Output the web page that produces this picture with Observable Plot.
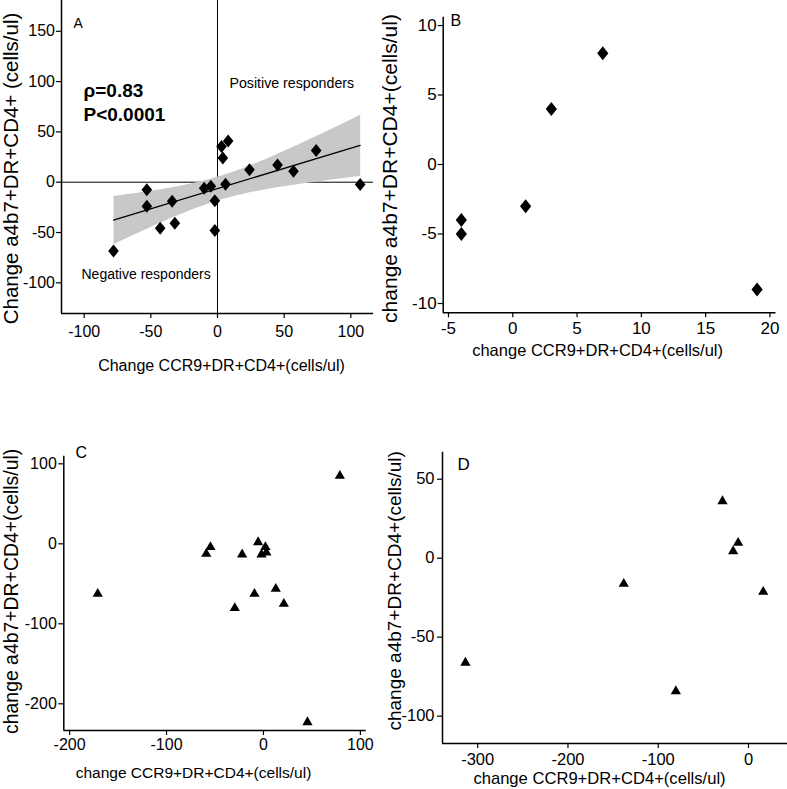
<!DOCTYPE html>
<html><head><meta charset="utf-8">
<script src="https://cdn.jsdelivr.net/npm/d3@7"></script>
<script src="https://cdn.jsdelivr.net/npm/@observablehq/plot@0.6"></script>
<style>
html,body{margin:0;padding:0;background:#fff;}
#wrap{position:relative;width:787px;height:789px;overflow:hidden;background:#fff;}
#wrap svg{position:absolute;overflow:visible;}
</style></head><body><div id="wrap"></div>
<script>
// ---------- data ----------
// Panel A
const aX = [-78,-53,-53,-43,-34,-32,-10,-5,-2,-2,3,4,8,6,24,45,57,74,107];
const aY = [-68.5,-7.6,-24,-45.7,-19,-40.7,-6,-4,-18.5,-48,35.4,24,41,-2,12.3,17,11,31.5,-2.3];
const aXTicks = [-100,-50,0,50,100];
const aYTicks = [-100,-50,0,50,100,150];
// Panel B
const bX = [-4,-4,1,3,7,19];
const bY = [-4,-5,-3,4,8,-9];
const bXTicks = [-5,0,5,10,15,20];
const bYTicks = [-10,-5,0,5,10];
// Panel C
const cX = [-171,-59,-54.7,-22,-5.5,-2,2,3,-9.3,-29.6,12.7,21,45.4,78.8];
const cY = [-62.5,-12.5,-4.2,-13.3,2,-13.3,-4.2,-10.8,-62.5,-80.4,-56.3,-75,-223,85];
const cXTicks = [-200,-100,0,100];
const cYTicks = [-200,-100,0,100];
// Panel D
const dX = [-313.6,-138.2,-80.5,-28.8,-11.5,-17,16.3];
const dY = [-66.2,-16.2,-84.2,36.1,9.7,4.4,-21.3];
const dXTicks = [-300,-200,-100,0];
const dYTicks = [-100,-50,0,50];
// labels
const labA_x = "Change CCR9+DR+CD4+(cells/ul)";
const labA_y = "Change a4b7+DR+CD4+ (cells/ul)";
const labX = "change CCR9+DR+CD4+(cells/ul)";
const labY = "change a4b7+DR+CD4+(cells/ul)";
const rhoText = "ρ=0.83";
const pText = "P<0.0001";
const posText = "Positive responders";
const negText = "Negative responders";

// ---------- helpers ----------
const FONT = '"Liberation Sans",Arial,Helvetica,sans-serif';
const zip = (xs, ys) => xs.map((x, i) => ({x, y: ys[i]}));
const diamond = (w, h) => ({draw(ctx){ ctx.moveTo(0,-h); ctx.lineTo(w,0); ctx.lineTo(0,h); ctx.lineTo(-w,0); ctx.closePath(); }});
const fmt = d => String(d);
const wrap = document.getElementById("wrap");

function place(svg, left, top){ svg.style.left = left + "px"; svg.style.top = top + "px"; wrap.appendChild(svg); }

function axes(xd, yd, xt, yt, fs, padX, padY){
  return [
    Plot.ruleX([xd[0]], {stroke:"black", strokeWidth:1.5}),
    Plot.ruleY([yd[0]], {stroke:"black", strokeWidth:1.5}),
    Plot.axisX({ticks: xt, tickFormat: fmt, tickSize: 5, tickPadding: padX, fontSize: fs, strokeWidth: 1.2, label: null}),
    Plot.axisY({ticks: yt, tickFormat: fmt, tickSize: 5, tickPadding: padY, fontSize: fs, strokeWidth: 1.2, label: null})
  ];
}
function xLabel(t, dx, dy, fs){ return Plot.text([t], {text: d => d, frameAnchor: "bottom", dx, dy, fontSize: fs, lineAnchor: "middle", textAnchor: "middle"}); }
function yLabel(t, dx, dy, fs){ return Plot.text([t], {text: d => d, frameAnchor: "left", dx, dy, rotate: -90, fontSize: fs, lineAnchor: "middle", textAnchor: "middle"}); }
const baseStyle = {fontFamily: FONT, color: "black", background: "transparent", overflow: "visible"};

// ---------- Panel A ----------
{
  const xd = [-117, 117], yd = [-130.5, 180.6];
  const data = zip(aX, aY);
  const svg = Plot.plot({
    width: 380, height: 385, marginLeft: 61, marginRight: 7, marginTop: 0, marginBottom: 72,
    x: {domain: xd}, y: {domain: yd},
    style: baseStyle,
    marks: [
      Plot.ruleX([0], {stroke: "black", strokeWidth: 1}),
      Plot.ruleY([0], {stroke: "black", strokeWidth: 1}),
      Plot.linearRegressionY(data, {x: "x", y: "y", fill: "#c8c8c8", fillOpacity: 1, stroke: "black", strokeWidth: 1.3}),
      ...axes(xd, yd, aXTicks, aYTicks, 16, 7, 1.5),
      Plot.dot(data, {x: "x", y: "y", symbol: diamond(5.3, 6.5), fill: "black", stroke: "none"}),
      Plot.text(["A"], {text: d => d, x: -108, y: 158, textAnchor: "start", fontSize: 14}),
      Plot.text([rhoText], {text: d => d, x: -100.5, y: 91, textAnchor: "start", fontSize: 19, fontWeight: "bold"}),
      Plot.text([pText], {text: d => d, x: -100.5, y: 67, textAnchor: "start", fontSize: 19, fontWeight: "bold"}),
      Plot.text([posText], {text: d => d, x: 9, y: 98, textAnchor: "start", fontSize: 14.2}),
      Plot.text([negText], {text: d => d, x: -102, y: -91.7, textAnchor: "start", fontSize: 14}),
      xLabel(labA_x, 4, 52, 16),
      yLabel(labA_y, -50, 11.5, 20.5)
    ]
  });
  place(svg, 0, 0);
}
// ---------- Panel B ----------
{
  const xd = [-5.41, 20.47], yd = [-10.67, 10.6];
  const data = zip(bX, bY);
  const svg = Plot.plot({
    width: 407, height: 385, marginLeft: 62.7, marginRight: 11.5, marginTop: 16.7, marginBottom: 72.7,
    x: {domain: xd}, y: {domain: yd},
    style: baseStyle,
    marks: [
      ...axes(xd, yd, bXTicks, bYTicks, 17, 4.5, 1.5),
      Plot.dot(data, {x: "x", y: "y", symbol: diamond(5.6, 7), fill: "black", stroke: "none"}),
      Plot.text(["B"], {text: d => d, x: -4.85, y: 10.3, textAnchor: "start", fontSize: 16}),
      xLabel(labX, -12, 37.7, 16.5),
      yLabel(labY, -52.7, 3.5, 21)
    ]
  });
  place(svg, 380, 0);
}
// ---------- Panel C ----------
{
  const xd = [-206, 106], yd = [-233.4, 109.5];
  const data = zip(cX, cY);
  const svg = Plot.plot({
    width: 380, height: 399, marginLeft: 63.3, marginRight: 14.3, marginTop: 65.7, marginBottom: 59,
    x: {domain: xd}, y: {domain: yd},
    style: baseStyle,
    marks: [
      ...axes(xd, yd, cXTicks, cYTicks, 16, 3, 2),
      Plot.dot(data, {x: "x", y: "y", symbol: "triangle", r: 3.8, fill: "black", stroke: "none"}),
      Plot.text(["C"], {text: d => d, x: -194, y: 113.5, textAnchor: "start", fontSize: 16}),
      xLabel(labX, -21.5, 43, 15.5),
      yLabel(labY, -52.5, -2, 19.4)
    ]
  });
  place(svg, 0, 390);
}
// ---------- Panel D ----------
{
  const xd = [-339, 43.2], yd = [-117.3, 67.1];
  const data = zip(dX, dY);
  const svg = Plot.plot({
    width: 407, height: 399, marginLeft: 62, marginRight: 0, marginTop: 61.7, marginBottom: 46,
    x: {domain: xd}, y: {domain: yd},
    style: baseStyle,
    marks: [
      ...axes(xd, yd, dXTicks, dYTicks, 16.5, 5, 3),
      Plot.dot(data, {x: "x", y: "y", symbol: "triangle", r: 3.8, fill: "black", stroke: "none"}),
      Plot.text(["D"], {text: d => d, x: -322.5, y: 59.6, textAnchor: "start", fontSize: 17}),
      xLabel(labX, -15.5, 35, 16.6),
      yLabel(labY, -48, -7, 19)
    ]
  });
  place(svg, 380, 390);
}
</script></body></html>
